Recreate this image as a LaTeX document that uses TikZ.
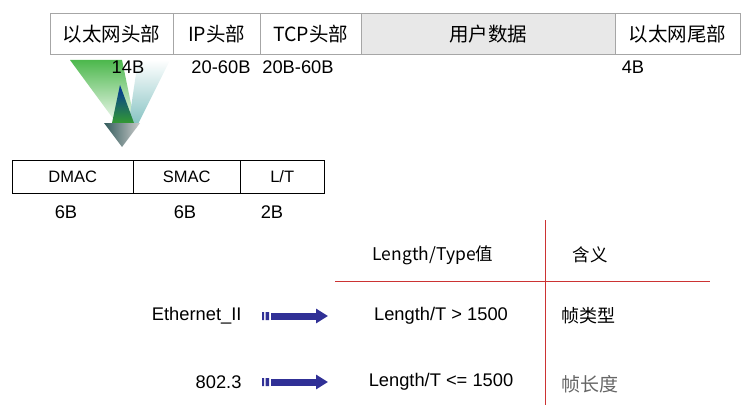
\documentclass[tikz,border=0pt]{standalone}
\usepackage{fontspec}
\setmainfont{Liberation Sans}
\newfontfamily\cjk{Noto Sans CJK SC}
\usetikzlibrary{arrows.meta}
\definecolor{arrblue}{RGB}{48,48,150}
\begin{document}
\begin{tikzpicture}[x=1pt,y=-1pt,
  topcell/.style={draw=black!35,minimum height=41pt,inner sep=0,font=\fontsize{19.5}{21}\selectfont\cjk,anchor=north west},
  frcell/.style={draw=black,minimum height=33pt,inner sep=0,font=\fontsize{16.5}{18}\selectfont,anchor=north west},
  lbl/.style={font=\fontsize{18.3}{20}\selectfont}]
\useasboundingbox (0,0) rectangle (750,412);
% funnel arrow
\shade[top color=green!60!black!70,bottom color=white] (70,60) -- (122,60) -- (136,128) -- (120,128) -- cycle;
\shade[top color=white,bottom color=teal!50] (170,60) -- (138,60) -- (128,128) -- (136,128) -- cycle;
\shade[top color=blue!50!teal!80!black,bottom color=green!50!black!80] (120,85) -- (112,123) -- (134,123) -- cycle;
\shade[left color=teal!40!black!80,right color=black!20] (104,123) -- (140,123) -- (122,147) -- cycle;
\node[topcell,minimum width=123pt] (c1) at (50,13) {以太网头部};
\node[topcell,minimum width=87pt] (c2) at (173,13) {IP头部};
\node[topcell,minimum width=101pt] (c3) at (260,13) {TCP头部};
\node[topcell,minimum width=254pt,fill=black!9] (c4) at (361,13) {用户数据};
\node[topcell,minimum width=125pt] (c5) at (615,13) {以太网尾部};
\node[lbl] (l1) at (128,67) {14B};
\node[lbl] (l2) at (221,67) {20-60B};
\node[lbl] (l3) at (298,67) {20B-60B};
\node[lbl] (l5) at (633,67) {4B};
\node[frcell,minimum width=121pt] (d1) at (12,160) {DMAC};
\node[frcell,minimum width=107pt] (d2) at (133,160) {SMAC};
\node[frcell,minimum width=84pt] (d3) at (240,160) {L/T};
\node[lbl] (s1) at (66,212) {6B};
\node[lbl] (s2) at (185,212) {6B};
\node[lbl] (s3) at (272,212) {2B};
% table
\coordinate (vt) at (545,220); \coordinate (vb) at (545,405);
\coordinate (hl) at (335,281); \coordinate (hr) at (710,281);
\draw[red!75!black!80,line width=1pt] (vt) -- (vb) (hl) -- (hr);
\node[lbl,font=\fontsize{17.5}{19}\selectfont\cjk] (h1) at (433,255) {Length/Type值};
\node[lbl,font=\fontsize{17.5}{19}\selectfont\cjk] (h2) at (590,255) {含义};
\node[lbl,anchor=east] (e1) at (245,316) {Ethernet\_II};
\node[lbl,anchor=east] (e2) at (245,382) {802.3};
\node[lbl] (r1) at (441,316) {Length/T > 1500};
\node[lbl] (r2) at (441,382) {Length/T <= 1500};
\node[lbl,font=\fontsize{18}{20}\selectfont\cjk] (m1) at (588,316) {帧类型};
\node[lbl,font=\fontsize{19}{21}\selectfont\cjk,text=black!60] (m2) at (590,384) {帧长度};
\foreach \y/\n in {316/a,382/b}{
  \coordinate (\n s) at (271,\y); \coordinate (\n e) at (328,\y);
  \fill[arrblue] (262,\y-4) rectangle (264,\y+4) (265.5,\y-4) rectangle (269,\y+4);
  \draw[arrblue,line width=7pt,-{Triangle[length=12pt,width=14pt]}] (\n s) -- (\n e);
}
\end{tikzpicture}
\end{document}
